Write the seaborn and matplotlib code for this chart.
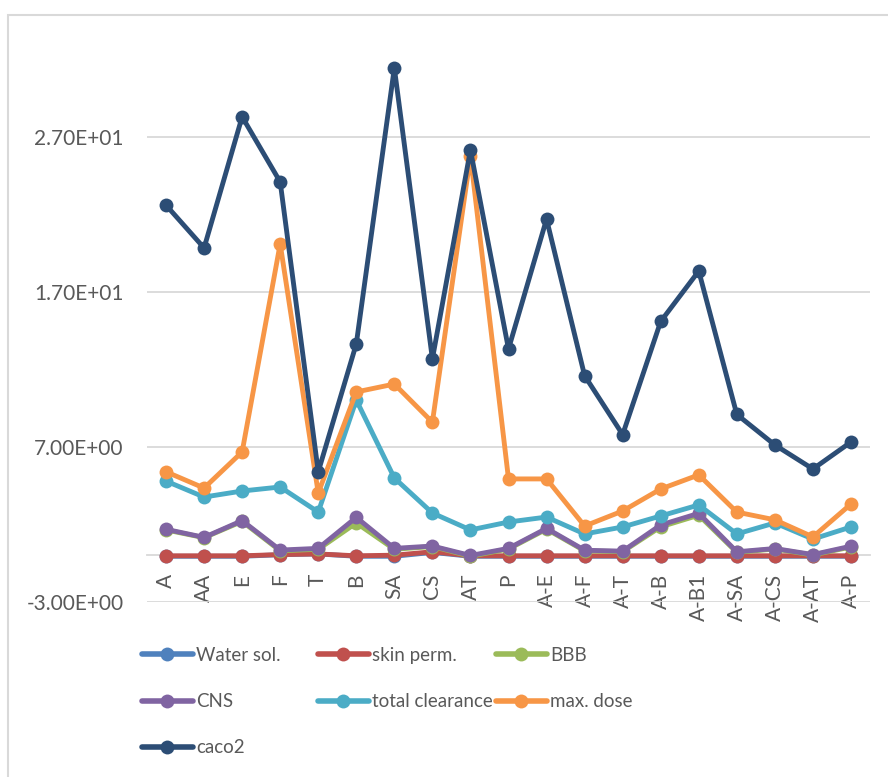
import numpy as np
import matplotlib
matplotlib.use("Agg")
import matplotlib.pyplot as plt
import pandas as pd
import seaborn as sns
from matplotlib.patches import Rectangle
from matplotlib.lines import Line2D

compounds = ["A", "AA", "E", "F", "T", "B", "SA", "CS", "AT", "P",
             "A-E", "A-F", "A-T", "A-B", "A-B1", "A-SA", "A-CS", "A-AT", "A-P"]

water_sol = [-0.05, -0.05, -0.05, 0.05, 0.1, -0.05, -0.05, 0.2, -0.05, -0.05,
             -0.05, -0.05, -0.05, -0.05, -0.05, -0.05, -0.05, -0.05, -0.05]
skin_perm = [-0.02, -0.02, -0.02, 0.06, 0.1, -0.02, 0.02, 0.24, -0.02, -0.02,
             -0.02, -0.02, -0.02, -0.02, -0.02, -0.02, -0.02, -0.02, -0.02]
bbb = [1.65, 1.15, 2.2, 0.3, 0.4, 2.1, 0.4, 0.58, -0.05, 0.42,
       1.7, 0.3, 0.25, 1.85, 2.6, 0.2, 0.42, 0.03, 0.55]
cns = [1.69, 1.17, 2.25, 0.35, 0.46, 2.46, 0.46, 0.61, 0.0, 0.46,
       1.75, 0.34, 0.28, 1.97, 2.72, 0.24, 0.45, 0.06, 0.6]
total_clearance = [4.8, 3.77, 4.16, 4.42, 2.8, 10.03, 5.0, 2.74, 1.65, 2.16,
                   2.48, 1.39, 1.84, 2.55, 3.26, 1.39, 2.1, 1.06, 1.84]
max_dose = [5.4, 4.35, 6.68, 20.1, 4.03, 10.55, 11.06, 8.6, 25.77, 4.94,
            4.94, 1.9, 2.87, 4.29, 5.2, 2.8, 2.3, 1.2, 3.32]
caco2 = [22.6, 19.84, 28.3, 24.1, 5.4, 13.65, 31.45, 12.68, 26.16, 13.32,
         21.7, 11.6, 7.8, 15.1, 18.35, 9.1, 7.13, 5.58, 7.32]

series_names = ["Water sol.", "skin perm.", "BBB", "CNS", "total clearance", "max. dose", "caco2"]
series_vals = [water_sol, skin_perm, bbb, cns, total_clearance, max_dose, caco2]
colors = ["#4F81BD", "#C0504D", "#9BBB59", "#8064A2", "#4BACC6", "#F79646", "#2C4D75"]
yticks = [-3, 7, 17, 27]
ytick_labels = ["-3.00E+00", "7.00E+00", "1.70E+01", "2.70E+01"]

rows = []
for name, vals in zip(series_names, series_vals):
    for c, v in zip(compounds, vals):
        rows.append({"compound": c, "value": v, "series": name})
df = pd.DataFrame(rows)

sns.set_style("white")
plt.rcParams["font.family"] = ["Lato", "DejaVu Sans"]
text_col = "#595959"

fig = plt.figure(figsize=(8.88, 7.77), dpi=100)
ax = fig.add_axes([147 / 888, 175 / 777, 723 / 888, 572 / 777])

sns.lineplot(data=df, x="compound", y="value", hue="series", hue_order=series_names,
             palette=colors, marker="o", markersize=10, markeredgewidth=0,
             linewidth=3.5, sort=False, ax=ax, legend=False)

ax.set_xlim(-0.5, len(compounds) - 0.5)
ax.set_ylim(-3, 33.9)
ax.set_yticks(yticks)
ax.set_yticklabels(ytick_labels)
ax.set_xticks(range(len(compounds)))
ax.set_xticklabels(compounds)
ax.set_xlabel("")
ax.set_ylabel("")
ax.yaxis.grid(True, color="#D9D9D9", linewidth=1.3)
ax.set_axisbelow(True)
for s in ["top", "right", "left"]:
    ax.spines[s].set_visible(False)
ax.spines["bottom"].set_position(("data", 0))
ax.spines["bottom"].set_color("#D9D9D9")
ax.spines["bottom"].set_linewidth(1.3)
ax.spines["bottom"].set_zorder(0.5)
ax.tick_params(axis="both", length=0, labelsize=15, colors=text_col)
ax.tick_params(axis="y", pad=17)
ax.tick_params(axis="x", pad=13, labelrotation=90)

# legend: three columns placed like the original
columns = [[0, 3, 6], [1, 4], [2, 5]]
col_x = [142 / 888, 318 / 888, 496 / 888]
for cx, idx in zip(col_x, columns):
    handles = [Line2D([], [], color=colors[i], lw=4, marker="o", markersize=10,
                      markeredgewidth=0, solid_capstyle="round") for i in idx]
    fig.legend(handles, [series_names[i] for i in idx], loc="upper left",
               bbox_to_anchor=(cx, 1 - 647 / 777), frameon=False, fontsize=13.5,
               labelcolor=text_col, handlelength=2.7, handletextpad=0.2,
               labelspacing=1.55, borderaxespad=0, borderpad=0)

fig.patches.append(Rectangle((8 / 888, -0.05), 1.2, 1 - 15 / 777 + 0.05,
                             transform=fig.transFigure, fill=False,
                             edgecolor="#D9D9D9", linewidth=1.5))

fig.savefig("out.png", dpi=100)
